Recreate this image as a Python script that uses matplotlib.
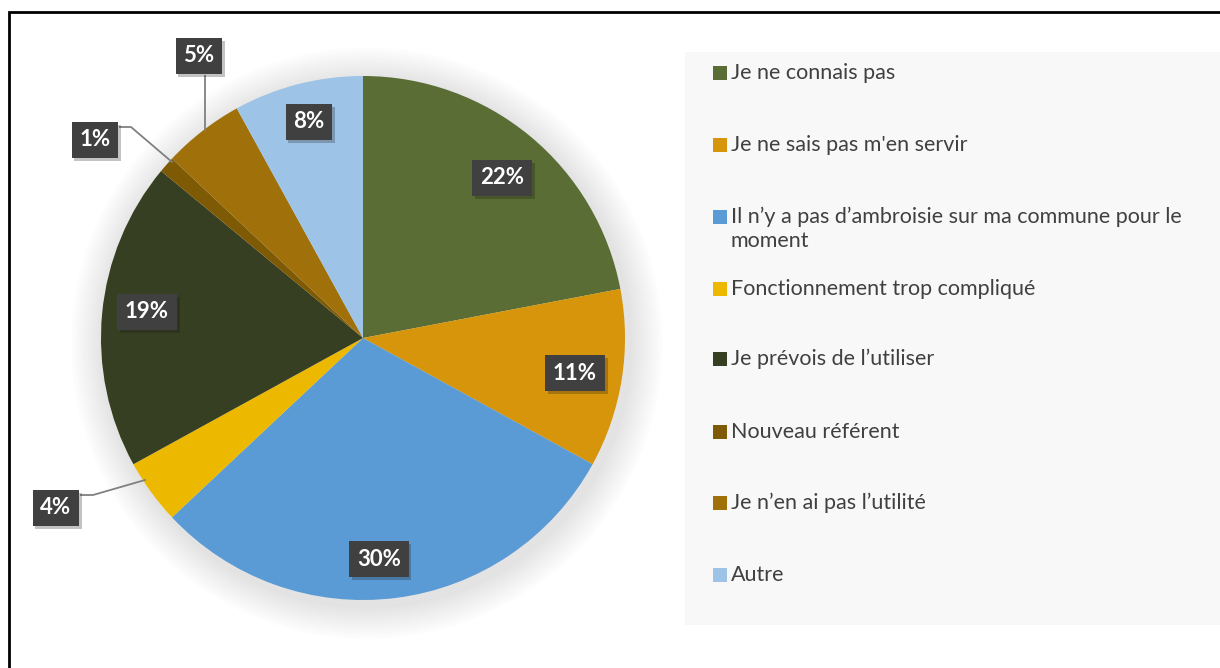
import matplotlib.pyplot as plt
import matplotlib.patheffects as pe
from matplotlib.patches import Rectangle, Circle

# donnees
categories = ["Je ne connais pas",
              "Je ne sais pas m'en servir",
              "Il n’y a pas d’ambroisie sur ma commune pour le\nmoment",
              "Fonctionnement trop compliqué",
              "Je prévois de l’utiliser",
              "Nouveau référent",
              "Je n’en ai pas l’utilité",
              "Autre"]
valeurs = [22, 11, 30, 4, 19, 1, 5, 8]
etiquettes = ["22%", "11%", "30%", "4%", "19%", "1%", "5%", "8%"]
couleurs = ["#596d34", "#d6950a", "#5b9bd5", "#edb900",
            "#363f21", "#7f5a05", "#a0700b", "#9dc3e6"]

plt.rcParams['font.family'] = ['Lato', 'DejaVu Sans']

W, H = 1220, 668
fig = plt.figure(figsize=(W / 100, H / 100), dpi=100)

# cadre noir (le bord droit et le bas sortent de l'image)
fig.patches.append(Rectangle((9 / W, -0.02), 1.05, 1 - 12 / H + 0.02,
                             transform=fig.transFigure, fill=False,
                             edgecolor="black", linewidth=2, zorder=0))

cx, cy, r = 363, 338, 262
ax = fig.add_axes([(cx - r) / W, (H - cy - r) / H, 2 * r / W, 2 * r / H])

# ombre douce autour du camembert
for k in range(14):
    ax.add_patch(Circle((0.015, -0.02), 1 + 0.009 * (14 - k), color="black",
                        alpha=0.007, zorder=0, clip_on=False))

wedges, _ = ax.pie(valeurs, colors=couleurs, startangle=90, counterclock=False,
                   radius=1, wedgeprops=dict(linewidth=0))
ax.set_xlim(-1, 1)
ax.set_ylim(-1, 1)
ax.axis("off")


def px(x, y):
    return (x - cx) / r, (cy - y) / r


# positions des etiquettes (pixels)
pos_etiq = [(502, 178), (575, 373), (379, 559), (56, 508),
            (147, 312), (95, 140), (199, 56), (309, 122)]

for txt, (x, y) in zip(etiquettes, pos_etiq):
    t = ax.text(*px(x, y), txt, ha="center", va="center", color="white",
                fontsize=16, fontweight="bold", zorder=5,
                bbox=dict(boxstyle="square,pad=0.35", facecolor="#404040",
                          edgecolor="none"))
    t.get_bbox_patch().set_path_effects([pe.SimplePatchShadow(offset=(2, -2), alpha=0.25),
                                         pe.Normal()])

# lignes de rappel
lignes = [[(81, 495), (93, 495), (145, 480)],
          [(120, 127), (131, 127), (172, 162)],
          [(205, 76), (205, 130)]]
for l in lignes:
    xs, ys = zip(*[px(a, b) for a, b in l])
    ax.plot(xs, ys, color="#808080", linewidth=1.3, zorder=4, clip_on=False)

# legende
fig.patches.append(Rectangle((685 / W, 1 - 625 / H), (1220 - 685) / W, (625 - 52) / H,
                             transform=fig.transFigure, facecolor="#f8f8f8",
                             edgecolor="none", zorder=1))
ys_leg = [73, 145, 217, 289, 359, 432, 503, 575]
for lab, c, y in zip(categories, couleurs, ys_leg):
    fig.patches.append(Rectangle((713 / W, 1 - (y + 7) / H), 14 / W, 14 / H,
                                 transform=fig.transFigure, facecolor=c,
                                 edgecolor="none", zorder=2))
    fig.text(731 / W, 1 - (y - 10) / H, lab, ha="left", va="top", fontsize=15.5,
             color="#404040", linespacing=1.2, zorder=3)

fig.savefig("out.png", dpi=100)
